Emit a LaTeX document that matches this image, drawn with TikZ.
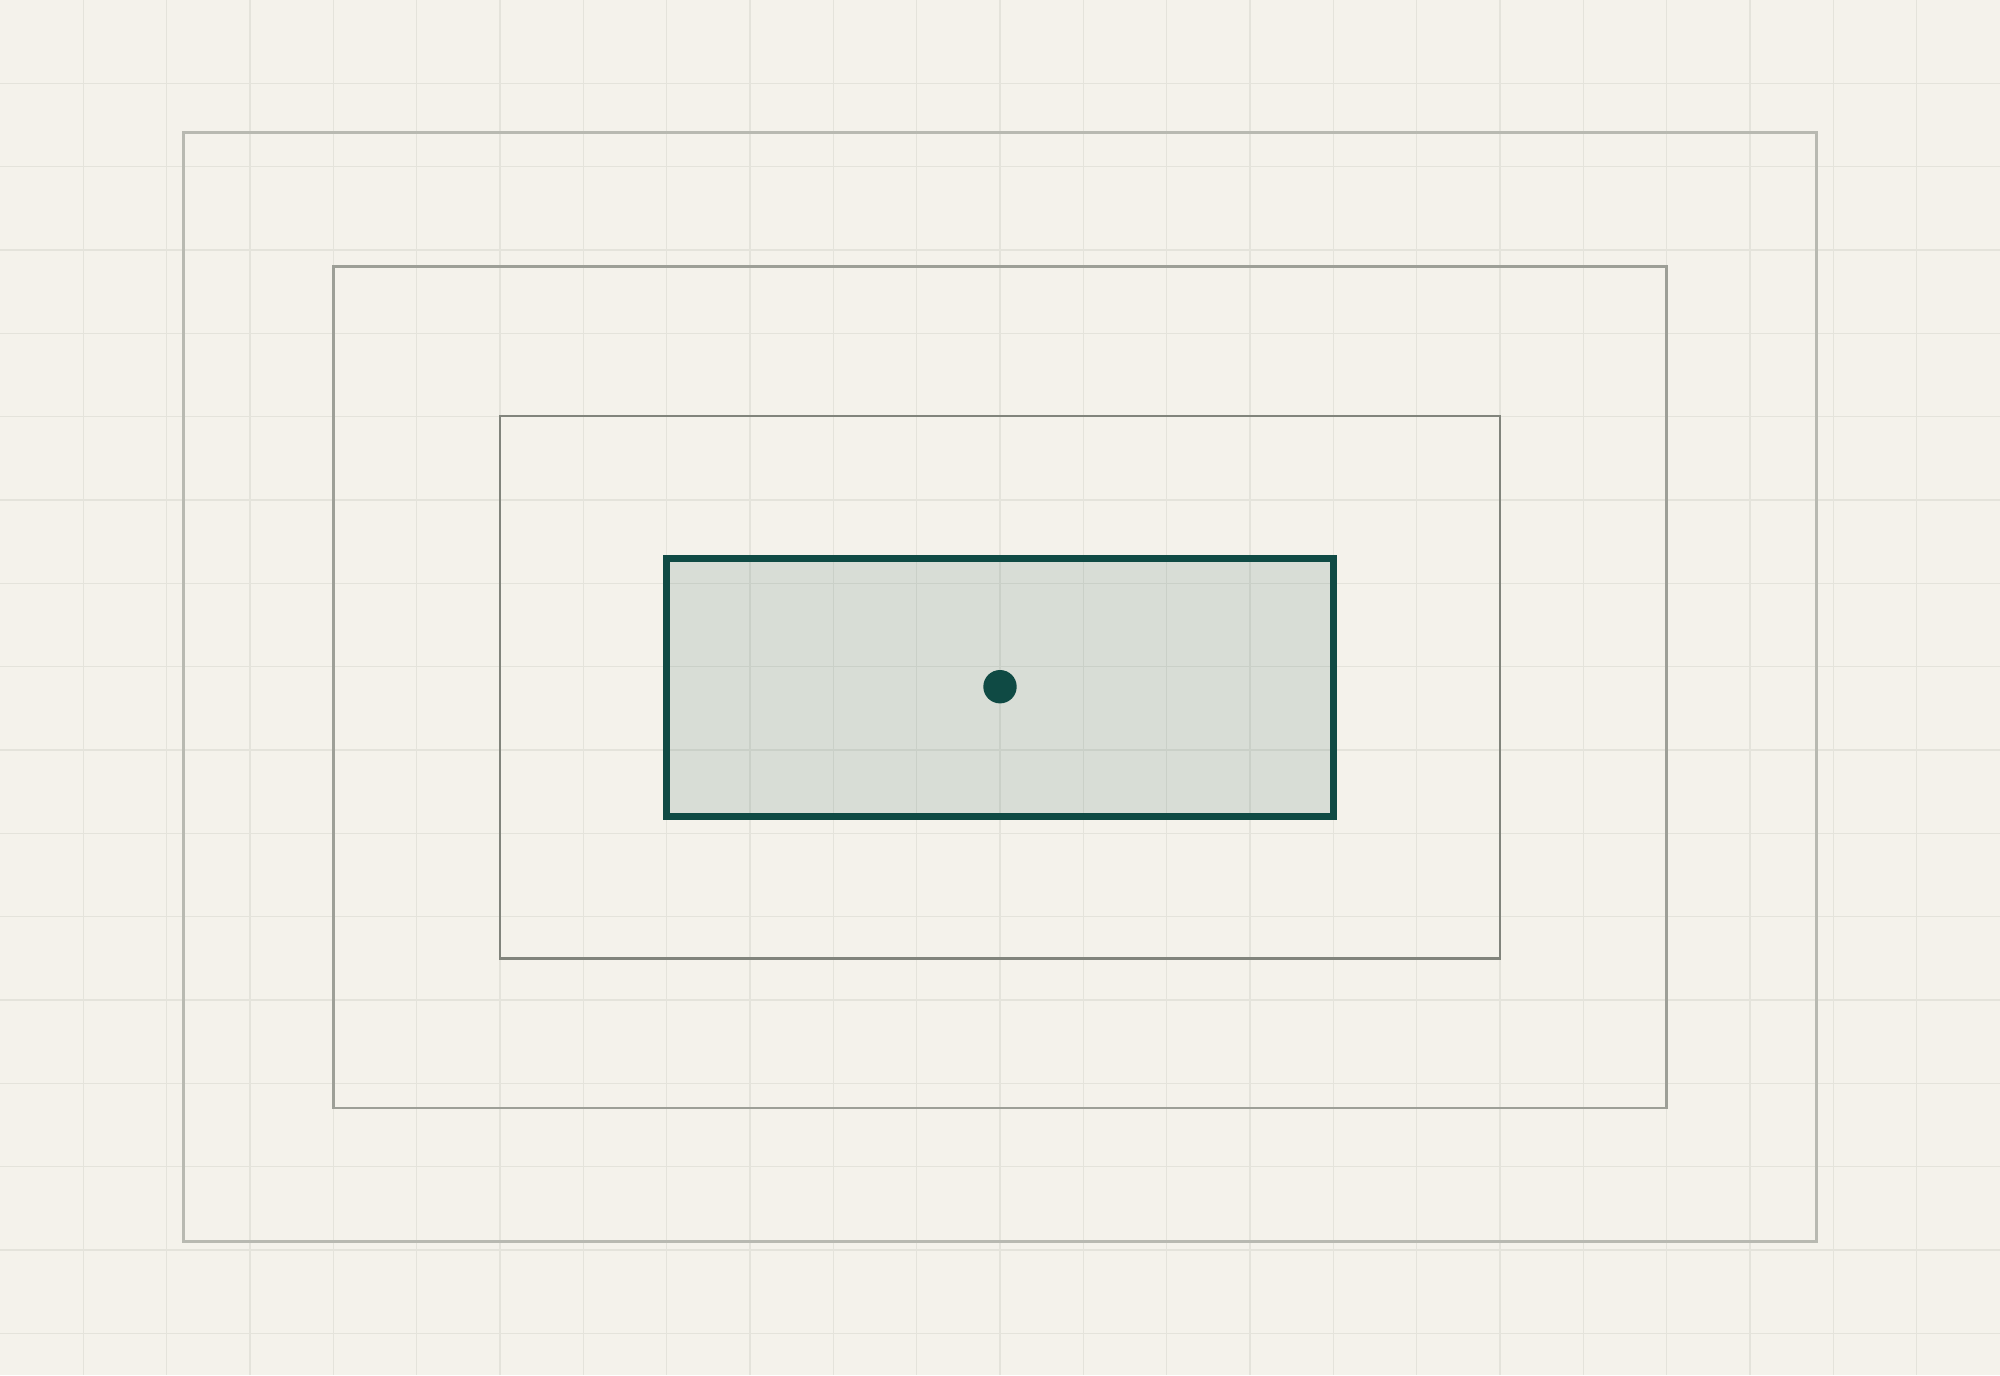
\documentclass[tikz,border=0pt]{standalone}
\definecolor{bgc}{HTML}{F4F2EB}
\definecolor{gridc}{HTML}{E4E3DB}
\definecolor{ringA}{HTML}{B8B9B1}
\definecolor{ringB}{HTML}{9D9F97}
\definecolor{ringC}{HTML}{81847C}
\definecolor{coreline}{HTML}{0F4A44}
\begin{document}
\begin{tikzpicture}[x=0.5pt,y=-0.5pt,
  ring/.style={line width=1.4pt},
  corebox/.style={draw=coreline,fill=coreline,fill opacity=0.12,draw opacity=1,line width=3.3pt},
  centerdot/.style={circle,fill=coreline,inner sep=0pt,minimum size=16.7pt}]
\fill[bgc] (0,0) rectangle (2000,1375);
\useasboundingbox (0,0) rectangle (2000,1375);
\foreach \i in {1,...,23} \draw[gridc,line width=0.75pt] (\i*83.333,0) -- (\i*83.333,1375);
\foreach \j in {1,...,16} \draw[gridc,line width=0.75pt] (0,\j*83.333) -- (2000,\j*83.333);
\draw[ring,draw=ringA] (183.5,132.5) rectangle (1816.5,1241.5);
\draw[ring,draw=ringB] (333.3,266.5) rectangle (1666.7,1108);
\draw[ring,draw=ringC] (500,416) rectangle (1500,958.5);
\node[corebox,minimum width=666.7pt/2,minimum height=258pt/2,inner sep=0pt] (core) at (1000,687.7) {};
\node[centerdot] (dot) at (1000,686.7) {};
\end{tikzpicture}
\end{document}
